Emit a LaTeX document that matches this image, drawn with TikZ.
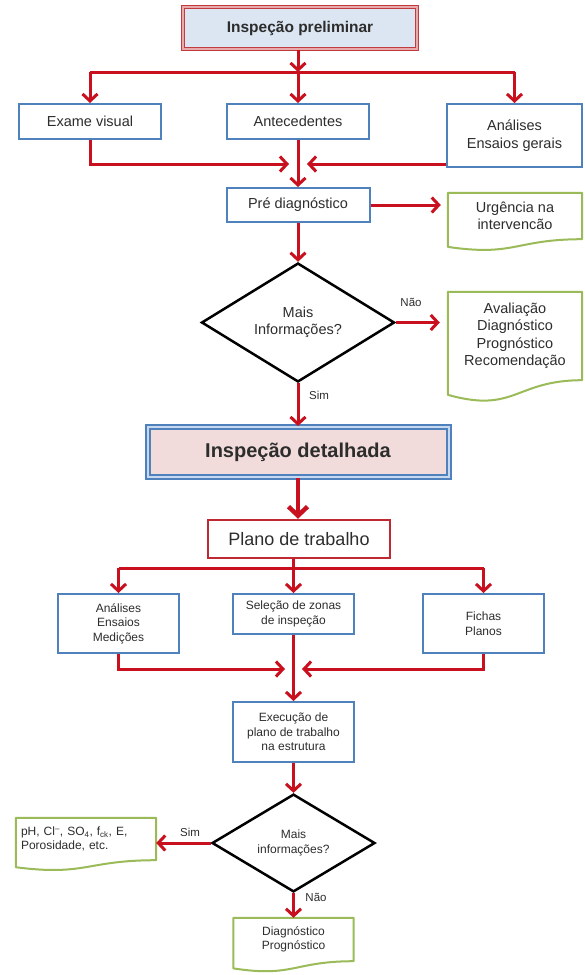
\documentclass[tikz,border=0pt]{standalone}
\usepackage{fontspec}
\setmainfont{Liberation Sans}
\usetikzlibrary{arrows.meta,shapes.geometric,calc}
\definecolor{arrred}{RGB}{200,16,30}
\definecolor{bxblue}{RGB}{79,129,189}
\definecolor{bxgreen}{RGB}{155,187,89}
\definecolor{prfill}{RGB}{220,230,242}
\definecolor{prborder}{RGB}{192,60,65}
\definecolor{prinner}{RGB}{232,170,170}
\definecolor{dtfill}{RGB}{242,220,219}
\definecolor{dtinner}{RGB}{198,217,241}
\definecolor{txt}{RGB}{45,45,45}
\definecolor{plborder}{RGB}{192,40,50}
\newcommand{\szUp}{\fontsize{14.5}{17.5}\selectfont}
\newcommand{\szLow}{\fontsize{12}{14.5}\selectfont}
\newcommand{\szLab}{\fontsize{11.5}{13}\selectfont}
\newcommand{\szPh}{\fontsize{12}{14}\selectfont}
\newcommand{\docdraw}[1]{\draw[docline] (#1.south east) -- (#1.north east) -- (#1.north west) -- ($(#1.south west)!-0.165!(#1.north west)$) .. controls ($(#1.south)!-0.38!(#1.north)$) and (#1.south) .. (#1.south east) -- cycle;}
\begin{document}
\begin{tikzpicture}[x=1pt,y=-1pt,
  bluebox/.style={draw=bxblue, line width=2pt, fill=white, inner sep=2pt, align=center, text=txt, font=\szUp},
  smallbox/.style={bluebox, font=\szLow},
  docnode/.style={draw=none, inner sep=2pt, align=center, text=txt, font=\szUp},
  docline/.style={draw=bxgreen, line width=2pt, line join=round},
  dia/.style={diamond, draw=black, line width=2.5pt, fill=white, inner sep=0pt, align=center, text=txt, font=\szUp},
  lab/.style={text=txt, font=\szLab, inner sep=1pt},
  prelim/.style={draw=prborder, line width=1.6pt, double=prinner, double distance=1.4pt, fill=prfill, font=\bfseries\fontsize{15.5}{18}\selectfont, text=txt},
  detail/.style={draw=bxblue, line width=2pt, double=dtinner, double distance=2pt, fill=dtfill, font=\bfseries\fontsize{20}{24}\selectfont, text=txt},
  plano/.style={draw=plborder, line width=2.5pt, fill=white, font=\fontsize{18}{21}\selectfont, text=txt},
  ln/.style={draw=arrred, line width=3pt},
  arr/.style={draw=arrred, line width=3pt, -{Straight Barb[length=7pt,width=15pt]}},
  bigarr/.style={draw=arrred, line width=4.5pt, -{Straight Barb[length=9pt,width=19pt]}}
]
\fill[white] (0,0) rectangle (584,975);
\useasboundingbox (0,0) rectangle (584,975);

% upper part
\node[prelim, minimum width=234pt, minimum height=42pt] (pre0) at (300,28) {Inspeção preliminar};
\coordinate (h1) at (298,72);
\node[bluebox, minimum width=142pt, minimum height=35pt] (exame) at (90,121.5) {Exame visual};
\node[bluebox, minimum width=142pt, minimum height=35pt] (ante) at (298,121.5) {Antecedentes};
\node[bluebox, minimum width=135pt, minimum height=63pt] (anal) at (514.5,135.5) {Análises\\Ensaios gerais};
\coordinate (m1L) at (289,164);
\coordinate (m1R) at (307,164);
\node[bluebox, minimum width=143pt, minimum height=34pt] (prediag) at (298,205) {Pré diagnóstico};
\node[docnode, minimum width=134pt, minimum height=46pt] (urg) at (515,216) {Urgência na\\intervencão};
\docdraw{urg}
\node[dia, minimum width=193pt, minimum height=111pt] (d1) at (298,322.5) {Mais\\Informações?};
\node[docnode, minimum width=134pt, minimum height=88pt] (aval) at (515,336) {Avaliação\\Diagnóstico\\Prognóstico\\Recomendação};
\docdraw{aval}
\node[lab] (nao1) at (411,302) {Não};
\node[lab] (sim1) at (319,395) {Sim};

% lower part
\node[detail, minimum width=301pt, minimum height=50pt] (det) at (298,452) {Inspeção detalhada};
\node[plano, minimum width=182pt, minimum height=38pt] (plano) at (299,539) {Plano de trabalho};
\coordinate (h2) at (293.5,568);
\node[smallbox, minimum width=121pt, minimum height=59pt] (aem) at (118.5,623.5) {Análises\\Ensaios\\Medições};
\node[smallbox, minimum width=121pt, minimum height=40pt] (sel) at (293.5,614) {Seleção de zonas\\de inspeção};
\node[smallbox, minimum width=121pt, minimum height=59pt] (fich) at (483.5,623.5) {Fichas\\Planos};
\coordinate (m2L) at (285,669);
\coordinate (m2R) at (302,669);
\node[smallbox, minimum width=121pt, minimum height=60pt] (exec) at (293.5,732) {Execução de\\plano de trabalho\\na estrutura};
\node[dia, minimum width=163pt, minimum height=86pt, font=\szLow] (d2) at (293.5,843) {Mais\\informações?};
\node[docnode, font=\szPh, align=left, minimum width=140pt, minimum height=42pt, text width=130pt] (ph) at (86,839) {pH, Cl\textsuperscript{–}, SO\textsubscript{4}, f\textsubscript{ck}, E,\\Porosidade, etc.};
\docdraw{ph}
\node[lab] (sim2) at (190,832) {Sim};
\node[lab] (nao2) at (316,897) {Não};
\node[docnode, font=\szLow, minimum width=120pt, minimum height=43pt] (diag) at (293.5,939.5) {Diagnóstico\\Prognóstico};
\docdraw{diag}

% connectors upper
\draw[ln] (exame.north |- h1) -- (anal.north |- h1);
\draw[arr] (pre0.south -| h1) -- (h1);
\draw[arr] (exame.north |- h1) -- (exame.north);
\draw[arr] (h1) -- (ante.north);
\draw[arr] (anal.north |- h1) -- (anal.north);
\draw[arr] (exame.south) |- (m1L);
\draw[arr] (anal.west |- m1R) -- (m1R);
\draw[arr] (ante.south) -- (prediag.north);
\draw[arr, shorten >=7pt] (prediag.east) -- (prediag.east -| urg.west);
\draw[arr] (prediag.south) -- (d1.north);
\draw[arr, shorten >=8pt] (d1.east) -- (d1.east -| aval.west);
\draw[arr] (d1.south) -- (det.north);

% connectors lower
\draw[bigarr] (det.south) -- (det.south |- plano.north);
\draw[ln] (plano.south -| h2) -- (h2);
\draw[ln] (aem.north |- h2) -- (fich.north |- h2);
\draw[arr] (aem.north |- h2) -- (aem.north);
\draw[arr] (h2) -- (sel.north);
\draw[arr] (fich.north |- h2) -- (fich.north);
\draw[arr] (aem.south) |- (m2L);
\draw[arr] (fich.south) |- (m2R);
\draw[arr] (sel.south) -- (exec.north);
\draw[arr] (exec.south) -- (d2.north);
\draw[arr] (d2.west) -- (d2.west -| ph.east);
\draw[arr] (d2.south) -- (diag.north);
\end{tikzpicture}
\end{document}
